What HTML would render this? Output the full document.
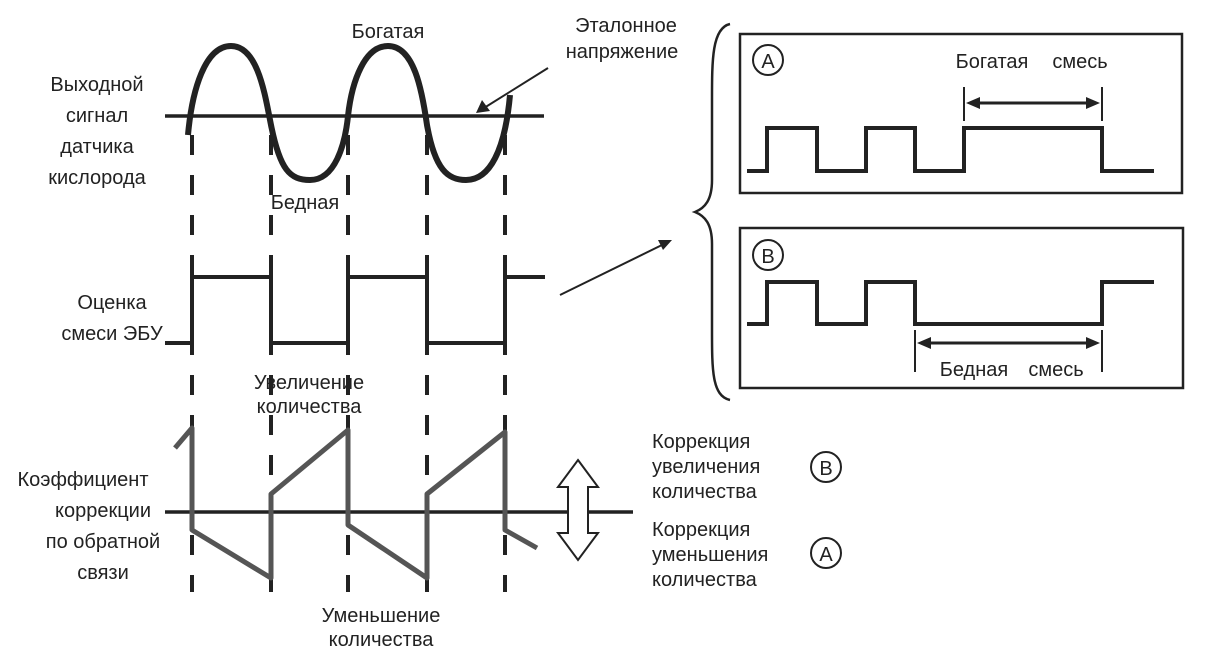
<!DOCTYPE html>
<html><head><meta charset="utf-8"><style>
body{margin:0;background:#fff}
svg{display:block}
text{font-family:"Liberation Sans","DejaVu Sans",sans-serif;font-size:20px;fill:#222}
</style></head><body>
<svg width="1206" height="662" viewBox="0 0 1206 662" xmlns="http://www.w3.org/2000/svg">
<g stroke="#222" fill="none">
<g stroke-width="4" stroke-dasharray="20,20">
<line x1="192" y1="135" x2="192" y2="592"/>
<line x1="271" y1="135" x2="271" y2="592"/>
<line x1="348" y1="135" x2="348" y2="592"/>
<line x1="427" y1="135" x2="427" y2="592"/>
<line x1="505" y1="135" x2="505" y2="592"/>
</g>
<line x1="165" y1="116" x2="544" y2="116" stroke-width="3.5"/>
<path d="M188,135 C192,90 205,46 231,46 C258,46 265,95 271,125 C280,170 290,180 310,180 C335,180 345,145 348,116 C352,80 365,46 388,46 C414,46 422,90 427,125 C435,170 448,180 466,180 C490,180 505,150 510,95" stroke-width="6"/>
<path d="M165,343 H192 V277 H271 V343 H348 V277 H427 V343 H505 V277 H545" stroke-width="4"/>
<line x1="165" y1="512" x2="633" y2="512" stroke-width="3.5"/>
<path d="M175,448 L192,428 V530 L271,578 V494 L348,430 V525 L427,578 V494 L505,432 V530 L537,548" stroke="#555" stroke-width="5" stroke-linejoin="round"/>
<path d="M578,460 L598,487 H588 V533 H598 L578,560 L558,533 H568 V487 H558 Z" stroke-width="2" fill="#fff"/>
<line x1="548" y1="68" x2="484" y2="108" stroke-width="2"/>
<line x1="560" y1="295" x2="664" y2="244" stroke-width="2"/>
<path d="M730,24 C712,28 712,60 712,100 L712,180 C712,200 705,208 695,212 C705,216 712,224 712,244 L712,330 C712,370 712,396 730,400" stroke-width="2.5"/>
<rect x="740" y="34" width="442" height="159" stroke-width="2.5"/>
<rect x="740" y="228" width="443" height="160" stroke-width="2.5"/>
<path d="M747,171 H767 V128 H817 V171 H866 V128 H915 V171 H964 V128 H1102 V171 H1154" stroke-width="4"/>
<path d="M747,324 H767 V282 H817 V324 H866 V282 H915 V324 H1102 V282 H1154" stroke-width="4"/>
<line x1="964" y1="87" x2="964" y2="121" stroke-width="2"/>
<line x1="1102" y1="87" x2="1102" y2="121" stroke-width="2"/>
<line x1="975" y1="103" x2="1090" y2="103" stroke-width="3"/>
<line x1="915" y1="330" x2="915" y2="372" stroke-width="2"/>
<line x1="1102" y1="330" x2="1102" y2="372" stroke-width="2"/>
<line x1="926" y1="343" x2="1090" y2="343" stroke-width="3"/>
<circle cx="768" cy="60" r="15" stroke-width="2"/>
<circle cx="768" cy="255" r="15" stroke-width="2"/>
<circle cx="826" cy="467" r="15" stroke-width="2"/>
<circle cx="826" cy="553" r="15" stroke-width="2"/>
</g>
<g fill="#222">
<polygon points="966,103 980,97 980,109"/>
<polygon points="1100,103 1086,97 1086,109"/>
<polygon points="917,343 931,337 931,349"/>
<polygon points="1100,343 1086,337 1086,349"/>
<polygon points="476,113 482,100 490,111"/>
<polygon points="672,240 658,240 663,250"/>
</g>
<g text-anchor="middle">
<text x="768" y="68" font-size="21">A</text><text x="768" y="263" font-size="21">B</text>
<text x="826" y="475" font-size="21">B</text><text x="826" y="561" font-size="21">A</text>
<text x="992" y="68">Богатая</text><text x="1080" y="68">смесь</text>
<text x="974" y="376">Бедная</text><text x="1056" y="376">смесь</text>
<text x="388" y="38">Богатая</text>
<text x="305" y="209">Бедная</text>
<text x="626" y="32">Эталонное</text>
<text x="622" y="58">напряжение</text>
<text x="97" y="91">Выходной</text>
<text x="97" y="122">сигнал</text>
<text x="97" y="153">датчика</text>
<text x="97" y="184">кислорода</text>
<text x="112" y="309">Оценка</text>
<text x="112" y="340">смеси  ЭБУ</text>
<text x="309" y="389">Увеличение</text>
<text x="309" y="413">количества</text>
<text x="83" y="486">Коэффициент</text>
<text x="103" y="517">коррекции</text>
<text x="103" y="548">по обратной</text>
<text x="103" y="579">связи</text>
<text x="381" y="622">Уменьшение</text>
<text x="381" y="646">количества</text>
</g>
<text x="652" y="448">Коррекция</text>
<text x="652" y="473">увеличения</text>
<text x="652" y="498">количества</text>
<text x="652" y="536">Коррекция</text>
<text x="652" y="561">уменьшения</text>
<text x="652" y="586">количества</text>
</svg>
</body></html>
